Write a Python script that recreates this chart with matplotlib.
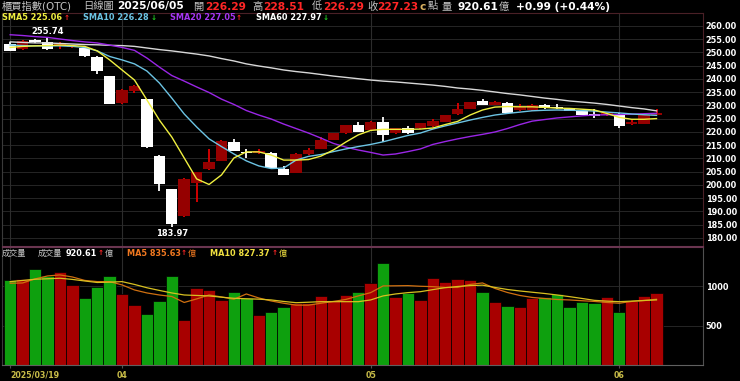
import matplotlib
matplotlib.use('Agg')
import matplotlib.pyplot as plt
import numpy as np

plt.rcParams['font.family'] = ['DejaVu Sans', 'Noto Sans CJK TC']

# ---------------- data ----------------
last_date = '2025/06/05'
tick_idx = [0, 9, 29, 49]
tick_labels = ['2025/03/19', '04', '05', '06']

opens = [253.2, 251.2, 254.4, 253.9, 252.5, 252.0, 251.6, 248.4, 241.2, 230.8,
         235.6, 232.3, 211.1, 198.4, 188.3, 200.6, 205.9, 209.1, 216.3, 212.4,
         212.1, 212.2, 205.9, 204.6, 211.6, 213.5, 217.0, 219.5, 222.6, 220.8,
         223.9, 219.5, 221.6, 221.4, 222.2, 223.9, 226.7, 228.6, 231.6, 230.2,
         231.1, 228.2, 228.2, 230.2, 229.3, 228.9, 228.0, 226.9, 226.5, 226.9,
         223.0, 223.2, 226.29]
highs = [254.0, 254.8, 255.0, 255.74, 254.0, 253.0, 251.8, 248.5, 241.3, 236.1,
         237.6, 232.5, 211.2, 198.6, 202.6, 205.0, 213.5, 217.0, 217.2, 213.5,
         213.4, 212.4, 207.2, 212.2, 214.1, 218.0, 219.7, 222.8, 223.9, 224.1,
         225.5, 221.6, 222.3, 223.4, 224.9, 226.5, 230.8, 231.5, 232.3, 231.6,
         231.2, 230.6, 230.4, 230.5, 230.6, 229.2, 228.3, 228.8, 227.3, 227.1,
         224.4, 226.6, 228.51]
lows = [250.5, 251.0, 253.5, 251.0, 251.2, 251.6, 248.4, 241.8, 230.5, 230.6,
        234.8, 214.1, 197.9, 183.97, 188.0, 193.7, 205.8, 209.0, 212.8, 210.1,
        211.6, 206.3, 203.6, 204.5, 211.5, 213.4, 216.9, 219.4, 220.0, 220.7,
        216.3, 219.4, 219.4, 221.3, 222.0, 223.8, 226.6, 228.5, 230.1, 230.0,
        226.8, 227.8, 228.0, 228.6, 228.8, 227.8, 226.3, 225.2, 226.1, 221.4,
        222.7, 223.0, 226.29]
closes = [250.7, 254.3, 254.1, 251.3, 252.8, 252.6, 248.7, 243.0, 230.6, 235.8,
          237.4, 214.5, 200.3, 185.3, 202.3, 204.8, 208.6, 216.6, 213.0, 212.0,
          212.4, 206.5, 203.8, 211.6, 213.2, 217.0, 219.5, 222.6, 220.1, 223.9,
          218.9, 221.4, 219.5, 223.3, 224.2, 226.4, 228.6, 231.4, 230.2, 231.4,
          227.1, 229.6, 230.0, 229.0, 229.0, 228.0, 226.4, 226.1, 227.0, 222.2,
          223.4, 226.24, 227.23]

sma5 = [251.9, 252.3, 252.5, 252.6, 252.8, 252.6, 252.3, 250.6, 247.2, 243.4,
        239.6, 232.1, 224.5, 218.1, 210.2, 202.3, 200.2, 203.8, 210.2, 212.5,
        212.5, 211.3, 209.4, 209.4, 209.6, 210.9, 213.2, 216.2, 218.9, 220.6,
        221.0, 221.0, 221.0, 221.1, 221.5, 222.8, 224.0, 226.4, 228.3, 229.4,
        229.6, 229.5, 229.5, 229.3, 229.0, 228.9, 228.6, 228.3, 227.0, 225.5,
        224.8, 224.8, 225.06]
sma10 = [252.8, 252.6, 252.5, 252.5, 252.5, 252.3, 251.9, 250.6, 248.5, 247.2,
         245.7, 243.0, 238.5, 232.8, 226.8, 221.9, 217.4, 214.5, 211.7, 209.1,
         207.2, 206.2, 206.4, 209.4, 210.8, 211.5, 212.6, 213.6, 214.5, 215.3,
         216.3, 217.5, 218.7, 219.6, 221.1, 222.3, 223.4, 224.5, 225.5, 226.4,
         227.0, 227.5, 228.0, 228.2, 228.3, 228.2, 228.1, 227.9, 227.5, 227.2,
         226.8, 226.5, 226.28]
sma20 = [256.7, 256.4, 256.0, 255.7, 255.1, 254.5, 254.0, 253.6, 252.8, 251.9,
         250.8, 247.9, 244.5, 241.3, 239.2, 237.0, 234.9, 232.4, 230.4, 228.1,
         226.4, 224.9, 223.0, 221.3, 219.6, 217.7, 215.7, 214.3, 213.2, 212.3,
         211.3, 211.7, 212.6, 213.6, 215.3, 216.4, 217.4, 218.3, 219.1, 220.0,
         221.3, 222.8, 224.1, 224.7, 225.3, 225.7, 226.1, 226.4, 226.5, 226.6,
         226.7, 226.9, 227.05]
sma60 = [254.0, 253.8, 253.6, 253.6, 253.4, 253.2, 253.0, 252.9, 252.7, 252.6,
         252.3, 251.7, 251.1, 250.6, 250.0, 249.4, 248.7, 247.7, 246.8, 245.7,
         244.9, 244.2, 243.4, 242.8, 242.3, 241.7, 241.1, 240.6, 240.1, 239.6,
         239.2, 238.9, 238.5, 238.1, 237.7, 237.2, 236.6, 236.2, 235.7, 235.1,
         234.5, 234.0, 233.4, 232.8, 232.3, 231.7, 231.3, 230.9, 230.4, 229.8,
         229.2, 228.7, 227.97]

volumes = [1084, 1094, 1217, 1132, 1183, 1018, 852, 988, 1132, 903,
           767, 653, 810, 1132, 572, 976, 954, 827, 932, 848,
           636, 678, 742, 785, 793, 878, 827, 890, 932, 1039,
           1294, 869, 912, 827, 1103, 1060, 1094, 1081, 925, 805,
           754, 734, 856, 861, 903, 734, 801, 793, 861, 678,
           818, 878, 920.61]
vol_ma5 = [1039, 1043, 1094, 1132, 1145, 1119, 1075, 1060, 1060, 1018,
           954, 916, 890, 871, 795, 840, 890, 865, 836, 903,
           852, 814, 785, 761, 761, 785, 808, 833, 878, 920,
           1005, 1007, 1009, 1001, 996, 986, 986, 1024, 1043, 973,
           922, 884, 859, 845, 833, 827, 817, 808, 795, 785,
           808, 820, 835.63]
vol_ma10 = [1060, 1075, 1090, 1096, 1103, 1088, 1068, 1049, 1053, 1060,
            1024, 982, 948, 916, 890, 884, 878, 862, 848, 842,
            837, 827, 808, 792, 798, 805, 805, 805, 805, 827,
            878, 903, 920, 932, 958, 983, 998, 1009, 1015, 986,
            960, 941, 925, 909, 890, 869, 846, 822, 812, 805,
            812, 820, 827.37]

price_ticks = [180, 185, 190, 195, 200, 205, 210, 215, 220, 225, 230, 235, 240, 245, 250, 255, 260]
vol_ticks = [500, 1000]

# ---------------- figure ----------------
W, H = 740, 381
fig = plt.figure(figsize=(W / 100, H / 100), dpi=100, facecolor='black')

SMALL = 5.9
BIG = 7.7
CJK_BIG = 7.4
ARROW = 5.2


def fx(px):
    return px / W


def fy(py):
    return 1 - py / H


ax = fig.add_axes([fx(2), fy(246), fx(703) - fx(2), fy(13) - fy(246)])
axv = fig.add_axes([fx(2), fy(365), fx(703) - fx(2), fy(247) - fy(365)])

for a in (ax, axv):
    a.set_facecolor('black')
    a.set_xlim(-0.66, 55.74)
    for s in a.spines.values():
        s.set_color('#3a3a3a')
        s.set_linewidth(0.8)
ax.spines['top'].set_color('#4a2026')
ax.spines['right'].set_color('#4a2026')
ax.spines['bottom'].set_color('#6a3550')
axv.spines['top'].set_color('#6a3550')
axv.spines['right'].set_color('#505050')
axv.spines['bottom'].set_color('#606060')

ax.set_ylim(176.98, 264.9)
axv.set_ylim(0, 1500)

x = np.arange(len(closes))
o = np.array(opens)
c = np.array(closes)
h = np.array(highs)
l = np.array(lows)
up = c >= o

# grids
for t in price_ticks:
    ax.axhline(t, color='#262626', lw=0.7, zorder=0)
for t in vol_ticks:
    axv.axhline(t, color='#262626', lw=0.7, zorder=0)
for ti in tick_idx:
    ax.axvline(ti, color='#2c2c2c', lw=0.8, zorder=0)
    axv.axvline(ti, color='#2c2c2c', lw=0.8, zorder=0)

# candles
body_bottom = np.minimum(o, c)
body_h = np.maximum(np.abs(c - o), 0.6)
ax.vlines(x[up], l[up], h[up], color='#e00000', lw=1.3, zorder=2)
ax.vlines(x[~up], l[~up], h[~up], color='white', lw=1.3, zorder=2)
ax.bar(x[up], body_h[up], bottom=body_bottom[up], width=0.92, color='#950000', lw=0, zorder=2)
ax.bar(x[~up], body_h[~up], bottom=body_bottom[~up], width=0.92, color='white', lw=0, zorder=2)

# moving averages
ma_colors = {'sma5': '#f0f040', 'sma10': '#6cc4e4', 'sma20': '#9a26e6', 'sma60': '#d8d8d8'}
ax.plot(x, sma60, color=ma_colors['sma60'], lw=1.0, zorder=3)
ax.plot(x, sma20, color=ma_colors['sma20'], lw=1.0, zorder=3)
ax.plot(x, sma10, color=ma_colors['sma10'], lw=1.0, zorder=3)
ax.plot(x, sma5, color=ma_colors['sma5'], lw=1.0, zorder=3)

# extreme labels
imax = int(np.argmax(h))
imin = int(np.argmin(l))
ax.annotate(f'{h[imax]:.2f}', (imax, h[imax]), xytext=(0, 0.8), textcoords='offset points',
            ha='center', va='bottom', color='white', fontsize=6.0, fontweight='bold', zorder=5)
ax.annotate(f'{l[imin]:.2f}', (imin, l[imin]), xytext=(0, -1), textcoords='offset points',
            ha='center', va='top', color='white', fontsize=6.0, fontweight='bold', zorder=5)

# volume
vcol = np.where(up, '#a80000', '#0ea00e')
axv.bar(x, volumes, width=1.0, color=vcol, edgecolor='black', lw=0.5, zorder=2)
axv.plot(x, vol_ma5, color='#d07010', lw=0.9, zorder=3)
axv.plot(x, vol_ma10, color='#d8c020', lw=0.9, zorder=3)

# ticks
ax.yaxis.tick_right()
ax.set_yticks(price_ticks)
ax.set_yticklabels([f'{t:.2f}' for t in price_ticks])
axv.yaxis.tick_right()
axv.set_yticks(vol_ticks)
axv.set_yticklabels([str(t) for t in vol_ticks])
for a in (ax, axv):
    a.tick_params(axis='y', length=0, pad=2, labelsize=SMALL, labelcolor='white')
    for lab in a.get_yticklabels():
        lab.set_fontweight('bold')
ax.set_xticks([])
axv.set_xticks(tick_idx)
axv.set_xticklabels(tick_labels)
axv.tick_params(axis='x', length=2, color='#505050', pad=2, labelsize=5.7, labelcolor='#c8bc48')
for lab in axv.get_xticklabels():
    lab.set_fontweight('bold')
axv.get_xticklabels()[0].set_ha('left')


# ---------------- header texts ----------------
def txt(px, py, s, color, bold=True, size=SMALL):
    fig.text(fx(px), fy(py), s, color=color, fontsize=size,
             fontweight='bold' if bold else 'normal', ha='left', va='center')


GRAY = '#c4c4c4'
RED = '#ff2626'
GREEN = '#22cc22'
chg = closes[-1] - closes[-2]
pct = chg / closes[-2] * 100

r1 = 6.5
txt(2, r1, '櫃買指數(OTC)', GRAY, bold=False, size=CJK_BIG)
txt(83, r1, '日線圖', GRAY, bold=False, size=CJK_BIG)
txt(117, r1, last_date, 'white', size=BIG)
txt(193, r1, '開', GRAY, bold=False, size=CJK_BIG)
txt(205, r1, f'{opens[-1]:.2f}', RED, size=BIG)
txt(252, r1, '高', GRAY, bold=False, size=CJK_BIG)
txt(263, r1, f'{highs[-1]:.2f}', RED, size=BIG)
txt(312, r1, '低', GRAY, bold=False, size=CJK_BIG)
txt(323, r1, f'{lows[-1]:.2f}', RED, size=BIG)
txt(367, r1, '收', GRAY, bold=False, size=CJK_BIG)
txt(377, r1, f'{closes[-1]:.2f}', RED, size=BIG)
txt(420, r1, 'c', '#d8b060', size=BIG)
txt(428, r1, '點', GRAY, bold=False, size=CJK_BIG)
txt(441, r1, '量', GRAY, bold=False, size=CJK_BIG)
txt(457, r1, f'{volumes[-1]:.2f}', 'white', size=BIG)
txt(499, r1, '億', GRAY, bold=False, size=CJK_BIG)
txt(516, r1, f'{chg:+.2f} ({pct:+.2f}%)', 'white', size=BIG)


def arrow(series):
    return ('↑', RED) if series[-1] >= series[-2] else ('↓', GREEN)


r2 = 17.5
for px, name, ser, col, apx in [(2, 'SMA5', sma5, ma_colors['sma5'], 64),
                                (83, 'SMA10', sma10, ma_colors['sma10'], 151),
                                (170, 'SMA20', sma20, '#a636f4', 236),
                                (256, 'SMA60', sma60, 'white', 323)]:
    txt(px, r2, f'{name} {ser[-1]:.2f}', col)
    a_s, a_c = arrow(ser)
    txt(apx, r2, a_s, a_c, size=ARROW)

r3 = 253
txt(2, r3, '成交量', GRAY, bold=False)
txt(38, r3, '成交量', GRAY, bold=False)
txt(66, r3, f'{volumes[-1]:.2f}', 'white')
a_s, a_c = arrow(volumes)
txt(98, r3, a_s, a_c, size=ARROW)
txt(105, r3, '億', GRAY, bold=False)
txt(127, r3, f'MA5 {vol_ma5[-1]:.2f}', '#f07820')
a_s, a_c = arrow(vol_ma5)
txt(181, r3, a_s, a_c, size=ARROW)
txt(188, r3, '億', '#f07820', bold=False)
txt(210, r3, f'MA10 {vol_ma10[-1]:.2f}', '#f0e040')
a_s, a_c = arrow(vol_ma10)
txt(272, r3, a_s, a_c, size=ARROW)
txt(279, r3, '億', '#f0e040', bold=False)

fig.savefig('out.png', dpi=100, facecolor='black')
